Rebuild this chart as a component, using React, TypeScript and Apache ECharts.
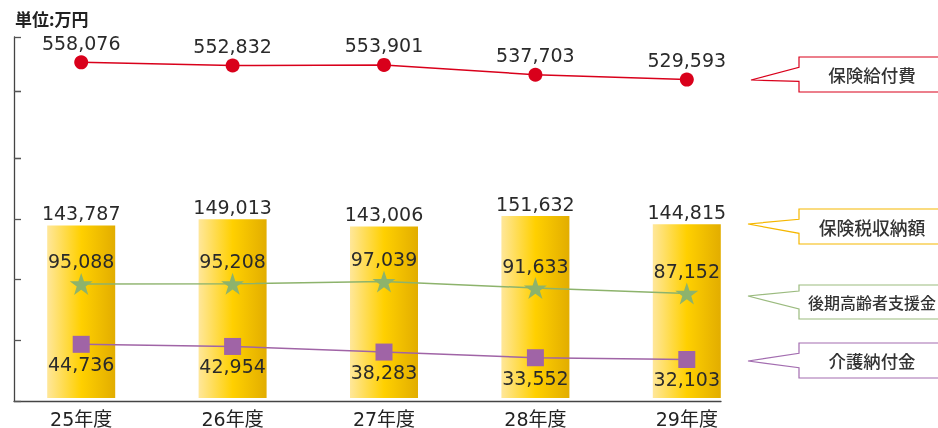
import React, { useEffect, useRef } from "react";
import * as echarts from "echarts";

const categories = ["25年度", "26年度", "27年度", "28年度", "29年度"];
const benefitCosts = [558076, 552832, 553901, 537703, 529593]; // 保険給付費
const taxRevenue = [143787, 149013, 143006, 151632, 144815]; // 保険税収納額
const elderlySupport = [95088, 95208, 97039, 91633, 87152]; // 後期高齢者支援金
const careLevy = [44736, 42954, 38283, 33552, 32103]; // 介護納付金

const seriesNames = ["保険給付費", "保険税収納額", "後期高齢者支援金", "介護納付金"];
const unitLabel = "単位:万円";

const NUM_FONT = "'DejaVu Sans', 'Noto Sans CJK JP', sans-serif";
const CJK_FONT = "'Noto Sans CJK JP', sans-serif";
const STAR =
  "path://M50,0 L61.8,35.4 L99,35.4 L69,57.3 L80.3,92.7 L50,70.8 L19.7,92.7 L31,57.3 L1,35.4 L38.2,35.4 Z";

const fmt = (p: any) => Number(p.value).toLocaleString("en-US");

function callout(
  color: string,
  top: number,
  bottom: number,
  tipX: number,
  tipY: number,
  joinTop: number,
  joinBottom: number,
  text: string,
  fontSize: number
) {
  const left = 799;
  return [
    {
      type: "polygon",
      shape: {
        points: [
          [left, top],
          [948, top],
          [948, bottom],
          [left, bottom],
          [left, joinBottom],
          [tipX, tipY],
          [left, joinTop],
        ],
      },
      style: { fill: "#fff", stroke: color, lineWidth: 1.2 },
      z: 10,
    },
    {
      type: "text",
      x: 872,
      y: (top + bottom) / 2,
      style: {
        text,
        fill: "#333",
        font: `500 ${fontSize}px ${CJK_FONT}`,
        align: "center",
        verticalAlign: "middle",
      },
      z: 11,
    },
  ];
}

export default function App() {
  const ref = useRef<HTMLDivElement>(null);
  useEffect(() => {
    document.body.style.margin = "0";
    const chart = echarts.init(ref.current!, null, { renderer: "svg" });
    const dataGridPos = { left: 5.5, width: 757 };
    const frame = { left: 14, width: 707 };
    const hiddenVal = {
      type: "value",
      show: false,
      min: 0,
      max: 1,
    };
    const frameY = (gridIndex: number, max: number) => ({
      type: "value",
      gridIndex,
      min: 0,
      max,
      interval: 1,
      axisLine: { show: true, lineStyle: { color: "#444", width: 1.3 } },
      axisTick: { show: true, inside: true, length: 7, lineStyle: { color: "#555", width: 1.3 } },
      axisLabel: { show: false },
      splitLine: { show: false },
    });
    const valueLabel = {
      show: true,
      formatter: fmt,
      color: "#2a2a2a",
      fontSize: 19,
      fontFamily: NUM_FONT,
    };
    chart.setOption({
      animation: false,
      grid: [
        { ...dataGridPos, top: 158, height: 243 },
        { ...dataGridPos, top: 37, height: 121 },
        { ...frame, top: 158, height: 243 },
        { ...frame, top: 91, height: 67 },
        { ...frame, top: 37, height: 54 },
      ],
      xAxis: [
        {
          type: "category",
          gridIndex: 0,
          data: categories,
          axisLine: { show: false },
          axisTick: { show: false },
          axisLabel: {
            color: "#222",
            fontSize: 19,
            fontFamily: NUM_FONT,
            margin: 11,
          },
        },
        { type: "category", gridIndex: 1, data: categories, show: false },
        {
          type: "value",
          gridIndex: 2,
          min: 0,
          max: 1,
          axisLine: { show: true, lineStyle: { color: "#444", width: 1.3 } },
          axisTick: { show: false },
          axisLabel: { show: false },
          splitLine: { show: false },
        },
        { ...hiddenVal, gridIndex: 3 },
        { ...hiddenVal, gridIndex: 4 },
      ],
      yAxis: [
        { type: "value", gridIndex: 0, min: 0, max: 200000, show: false },
        { type: "value", gridIndex: 1, min: 400000, max: 600000, show: false },
        frameY(2, 4),
        frameY(3, 1),
        frameY(4, 1),
      ],
      series: [
        {
          name: seriesNames[1],
          type: "bar",
          xAxisIndex: 0,
          yAxisIndex: 0,
          data: taxRevenue,
          barWidth: 68,
          itemStyle: {
            color: new echarts.graphic.LinearGradient(0, 0, 1, 0, [
              { offset: 0, color: "#FFE79A" },
              { offset: 0.5, color: "#FFD000" },
              { offset: 1, color: "#E2AD00" },
            ]),
          },
          label: { ...valueLabel, position: "top", distance: 3 },
          z: 1,
        },
        {
          name: seriesNames[2],
          type: "line",
          xAxisIndex: 0,
          yAxisIndex: 0,
          data: elderlySupport,
          symbol: STAR,
          symbolSize: [23, 22],
          itemStyle: { color: "#8DB36C" },
          lineStyle: { color: "#8DB36C", width: 1.5 },
          label: { ...valueLabel, position: "top", distance: 2 },
          z: 3,
        },
        {
          name: seriesNames[3],
          type: "line",
          xAxisIndex: 0,
          yAxisIndex: 0,
          data: careLevy,
          symbol: "rect",
          symbolSize: 17,
          itemStyle: { color: "#A064A6" },
          lineStyle: { color: "#A064A6", width: 1.5 },
          label: { ...valueLabel, position: "bottom", distance: 2 },
          z: 3,
        },
        {
          name: seriesNames[0],
          type: "line",
          xAxisIndex: 1,
          yAxisIndex: 1,
          data: benefitCosts,
          symbol: "circle",
          symbolSize: 14,
          itemStyle: { color: "#D9001B" },
          lineStyle: { color: "#D9001B", width: 1.5 },
          label: { ...valueLabel, position: "top", distance: 3 },
          z: 3,
        },
      ],
      graphic: [
        {
          type: "text",
          left: 15,
          top: 10,
          style: {
            text: unitLabel,
            fill: "#222",
            font: `bold 17px ${CJK_FONT}`,
          },
        },
        ...callout("#D9001B", 57, 92, 751, 80, 67.3, 81.3, seriesNames[0], 17.5),
        ...callout("#F5B700", 209, 244, 748, 224, 219.3, 233.3, seriesNames[1], 17.8),
        ...callout("#9BBB7F", 285, 319, 748, 296, 291, 309, seriesNames[2], 16),
        ...callout("#A36DB0", 343, 378, 748, 361, 353.3, 367.7, seriesNames[3], 17.4),
      ],
    });
    return () => chart.dispose();
  }, []);
  return (
    <div
      ref={ref}
      style={{ position: "fixed", left: 0, top: 0, width: 938, height: 428 }}
    />
  );
}
